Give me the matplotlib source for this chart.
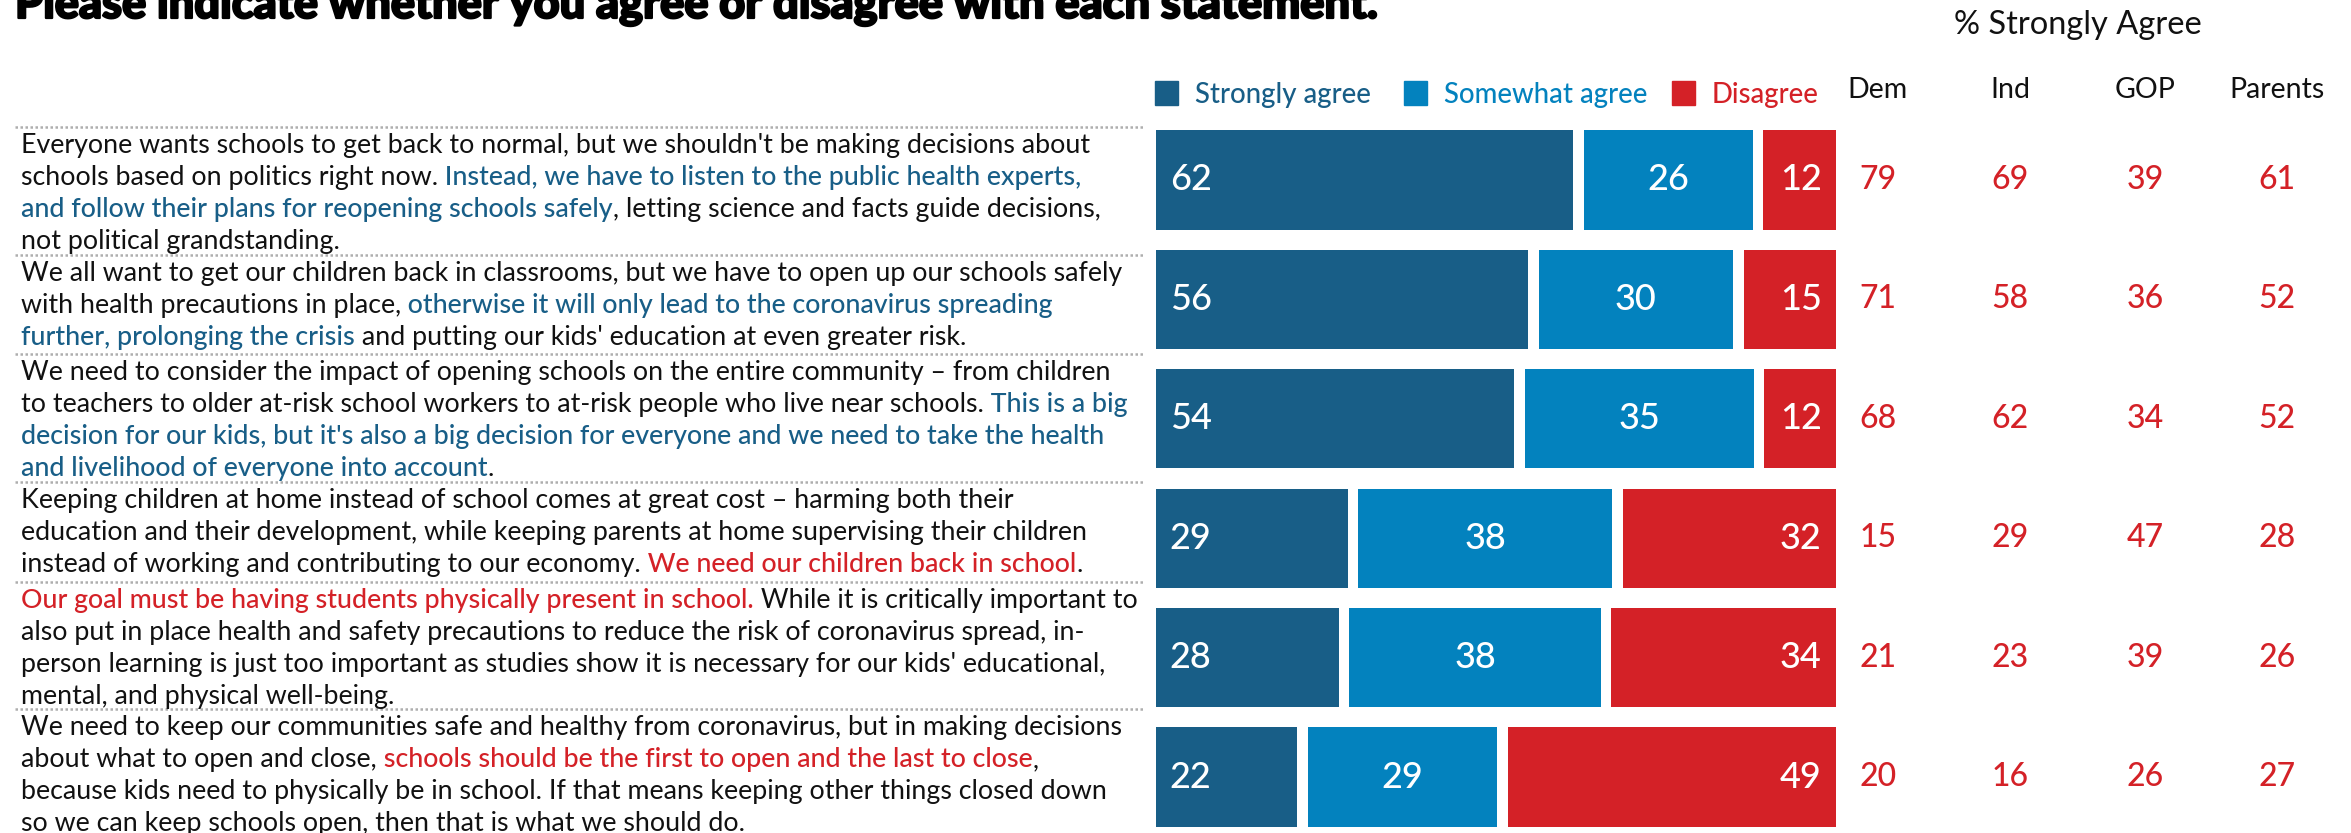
import matplotlib
matplotlib.use("Agg")
import matplotlib.pyplot as plt
import matplotlib.transforms as mtransforms
import matplotlib.patheffects as pe
from matplotlib.patches import Rectangle

W, H = 2351, 833
plt.rcParams['font.family'] = ['Lato', 'DejaVu Sans']

DARK = '#185E87'
MID = '#0382BE'
RED = '#D42127'
INK = '#111111'

# survey data
strongly = [62, 56, 54, 29, 28, 22]
somewhat = [26, 30, 35, 38, 38, 29]
disagree = [12, 15, 12, 32, 34, 49]

groups = ['Dem', 'Ind', 'GOP', 'Parents']
dem = [79, 71, 68, 15, 21, 20]
ind = [69, 58, 62, 29, 23, 16]
gop = [39, 36, 34, 47, 39, 26]
parents = [61, 52, 52, 28, 26, 27]

title = "Please indicate whether you agree or disagree with each statement."
legend_labels = ['Strongly agree', 'Somewhat agree', 'Disagree']

# statements: list of lines, each line a list of (text, colour key)
statements = [
    [[("Everyone wants schools to get back to normal, but we shouldn't be making decisions about", 'k')],
     [("schools based on politics right now.", 'k'), (" Instead, we have to listen to the public health experts,", 'b')],
     [("and follow their plans for reopening schools safely", 'b'), (", letting science and facts guide decisions,", 'k')],
     [("not political grandstanding.", 'k')]],
    [[("We all want to get our children back in classrooms, but we have to open up our schools safely", 'k')],
     [("with health precautions in place,", 'k'), (" otherwise it will only lead to the coronavirus spreading", 'b')],
     [("further, prolonging the crisis", 'b'), (" and putting our kids' education at even greater risk.", 'k')]],
    [[("We need to consider the impact of opening schools on the entire community \u2013 from children", 'k')],
     [("to teachers to older at-risk school workers to at-risk people who live near schools.", 'k'), (" This is a big", 'b')],
     [("decision for our kids, but it's also a big decision for everyone and we need to take the health", 'b')],
     [("and livelihood of everyone into account", 'b'), (".", 'k')]],
    [[("Keeping children at home instead of school comes at great cost \u2013 harming both their", 'k')],
     [("education and their development, while keeping parents at home supervising their children", 'k')],
     [("instead of working and contributing to our economy.", 'k'), (" We need our children back in school", 'r'), (".", 'k')]],
    [[("Our goal must be having students physically present in school.", 'r'), (" While it is critically important to", 'k')],
     [("also put in place health and safety precautions to reduce the risk of coronavirus spread, in-", 'k')],
     [("person learning is just too important as studies show it is necessary for our kids' educational,", 'k')],
     [("mental, and physical well-being.", 'k')]],
    [[("We need to keep our communities safe and healthy from coronavirus, but in making decisions", 'k')],
     [("about what to open and close,", 'k'), (" schools should be the first to open and the last to close", 'r'), (",", 'k')],
     [("because kids need to physically be in school. If that means keeping other things closed down", 'k')],
     [("so we can keep schools open, then that is what we should do.", 'k')]],
]
colour_of = {'k': INK, 'b': DARK, 'r': RED}

fig = plt.figure(figsize=(W / 100, H / 100), dpi=100)
fig.patch.set_facecolor('white')

# layout axes in pixel coordinates
lay = fig.add_axes([0, 0, 1, 1])
lay.set_xlim(0, W)
lay.set_ylim(H, 0)
lay.axis('off')

# bar axes: 100 % spans 690 px, every segment loses a small gap on its right
bx0, bx1 = 1156, 1846
row0, step = 180, 119.4
ax = fig.add_axes([bx0 / W, 0, (bx1 - bx0) / W, 1])
ax.set_xlim(0, 100)
ax.set_ylim((H - row0) / step, -row0 / step)
ax.axis('off')

n = len(strongly)
rows = list(range(n))
gap = 1.52
for i in rows:
    tot = strongly[i] + somewhat[i] + disagree[i]
    s1 = strongly[i] / tot * 100
    s2 = somewhat[i] / tot * 100
    s3 = disagree[i] / tot * 100
    ax.barh(i, s1 - gap, left=0, height=0.83, color=DARK)
    ax.barh(i, s2 - gap, left=s1, height=0.83, color=MID)
    ax.barh(i, s3 - gap, left=s1 + s2, height=0.83, color=RED)
    lab = dict(color='white', fontsize=26, fontweight='medium', va='center')
    ax.text(2.0, i, str(strongly[i]), ha='left', **lab)
    ax.text(s1 + (s2 - gap) / 2, i, str(somewhat[i]), ha='center', **lab)
    ax.text(100 - gap - 2.0, i, str(disagree[i]), ha='right', **lab)

# group columns
col_x = [1878, 2010, 2145, 2277]
mix = mtransforms.blended_transform_factory(lay.transData, ax.transData)
for cx, name, vals in zip(col_x, groups, [dem, ind, gop, parents]):
    lay.text(cx, 90, name, ha='center', va='center', fontsize=20.5, color=INK)
    for i in rows:
        lay.text(cx, i, str(vals[i]), transform=mix, ha='center', va='center',
                 fontsize=23, fontweight='medium', color=RED)
lay.text(2078, 25, '% Strongly Agree', ha='center', va='center', fontsize=23.5, color=INK)

# legend
leg_x = [1155, 1404, 1672]
for lx, lab, col in zip(leg_x, legend_labels, [DARK, MID, RED]):
    lay.add_patch(Rectangle((lx, 81), 23, 24, color=col))
    lay.text(lx + 40, 95, lab, ha='left', va='center', fontsize=19.8,
             fontweight='medium', color=col)

# title (cut at the top edge as in the source)
lay.text(15, 18, title, ha='left', va='baseline', fontsize=32.5,
         fontweight='black', color='black',
         path_effects=[pe.withStroke(linewidth=1.6, foreground='black')])

# statements with dotted separators
block_tops = [127, 255, 354, 482, 582, 709]
line_h = 32
for top, lines in zip(block_tops, statements):
    lay.plot([15, 1145], [top, top], color='#AEAEAE', lw=1.8,
             linestyle=(0, (1, 1)), solid_capstyle='butt')
    for k, segs in enumerate(lines):
        base = top + 26 + k * line_h
        prev = None
        for txt, ck in segs:
            kw = dict(fontsize=19.3, color=colour_of[ck],
                      fontweight='medium' if ck != 'k' else 'normal')
            if prev is None:
                prev = lay.text(21, base, txt, ha='left', va='baseline', **kw)
            else:
                prev = lay.annotate(txt, xy=(1, 0), xycoords=prev,
                                    ha='left', va='bottom', **kw)

fig.savefig('out.png', dpi=100, facecolor='white')
